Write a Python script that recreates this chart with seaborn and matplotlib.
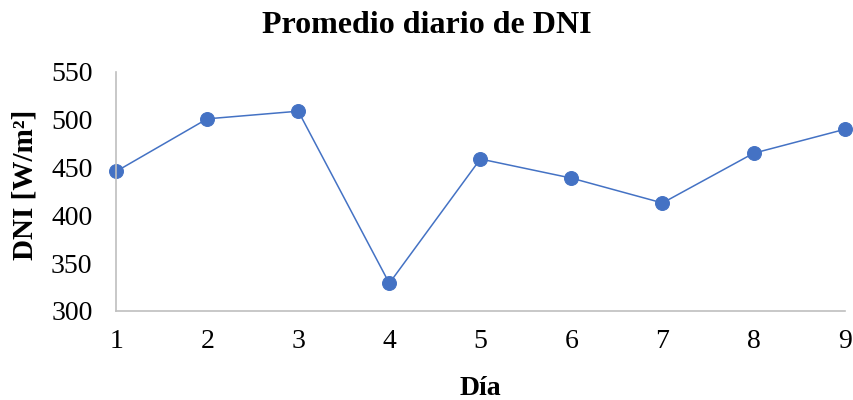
import pandas as pd
import numpy as np
import matplotlib
matplotlib.use("Agg")
import matplotlib.pyplot as plt
import seaborn as sns

# daily mean DNI
dias = [1, 2, 3, 4, 5, 6, 7, 8, 9]
dni = [446, 501, 509, 329, 459, 439, 413, 465, 490]

df = pd.DataFrame({'Dia': dias, 'DNI': dni})

sns.set_style("white")
plt.rcParams['font.family'] = ['Liberation Serif', 'DejaVu Serif']
plt.rcParams['text.color'] = 'black'
plt.rcParams['axes.labelcolor'] = 'black'
plt.rcParams['xtick.color'] = 'black'
plt.rcParams['ytick.color'] = 'black'

fig = plt.figure(figsize=(8.54, 4.0), dpi=100)
ax = fig.add_axes([0.136, 0.2225, 0.853, 0.5975])

sns.lineplot(data=df, x='Dia', y='DNI', ax=ax, color='#4472C4', linewidth=1.1,
             marker='o', markersize=10, markeredgecolor='#4472C4', clip_on=False)

ax.set_xlim(1, 9)
ax.set_ylim(300, 550)
ax.set_xticks(dias)
ax.set_yticks(np.arange(300, 551, 50))
ax.tick_params(axis='both', labelsize=20, length=0)
ax.tick_params(axis='x', pad=13)
ax.tick_params(axis='y', pad=17)

for s in ['top', 'right']:
    ax.spines[s].set_visible(False)
for s in ['left', 'bottom']:
    ax.spines[s].set_color('#bfbfbf')
    ax.spines[s].set_linewidth(1.2)

fig.text(0.5, 0.9175, 'Promedio diario de DNI', fontsize=23, fontweight='bold',
         ha='center', va='baseline')

ax.set_xlabel('Día', fontsize=20, fontweight='bold')
ax.xaxis.label.set_va('baseline')
ax.xaxis.set_label_coords(0.5, -0.351)

ax.set_ylabel('DNI [W/m²]', fontsize=21, fontweight='bold')
ax.yaxis.label.set_va('center')
ax.yaxis.set_label_coords(-0.125, 0.527)

fig.savefig('out.png', dpi=100)
